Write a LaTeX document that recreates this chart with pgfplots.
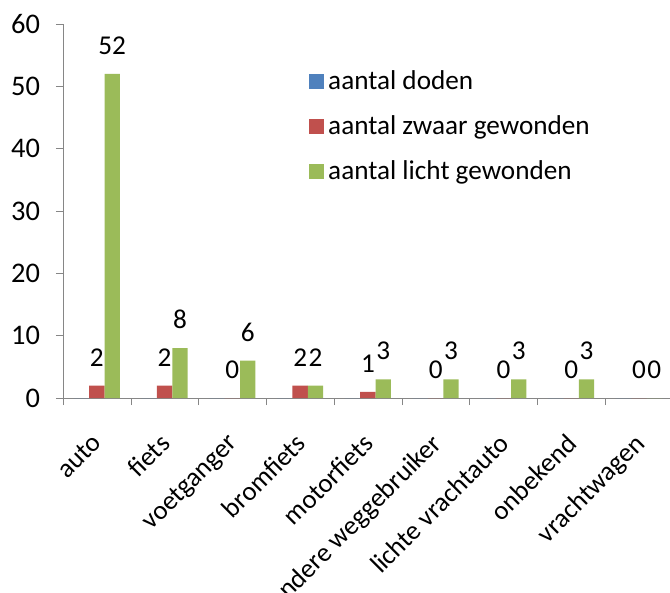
\documentclass[border=0pt]{standalone}
\usepackage{fontspec}
\setmainfont{Carlito}
\usepackage{pgfplots}
\pgfplotsset{compat=1.18}
\definecolor{dodenblue}{HTML}{4F81BD}
\definecolor{zwaarred}{HTML}{C0504D}
\definecolor{lichtgreen}{HTML}{9BBB59}
\definecolor{axisgray}{HTML}{868686}
\pgfplotsset{
  sq legend/.style={legend image code/.code={\fill[##1] (0bp,-3.75bp) rectangle (7.5bp,3.75bp);}},
}
\begin{document}
\begin{tikzpicture}[font=\fontsize{13.6bp}{16bp}\selectfont]
\path[use as bounding box] (-31.5bp,-97.5bp) rectangle (303.5bp,199bp);
\begin{axis}[
  at={(0,0)}, anchor=south west,
  scale only axis, width=303.5bp, height=187bp,
  xmin=-0.5, xmax=8.459, ymin=0, ymax=60,
  ybar=0pt, bar width=0.226,
  axis lines=left, axis line style={axisgray, -},
  tick align=outside,
  major tick length=3.5bp, minor tick length=3.5bp,
  tick label style={font=\fontsize{14.2bp}{17bp}\selectfont},
  ytick={0,10,...,60},
  y tick style={axisgray},
  yticklabel style={xshift=-4.5bp},
  xtick={0,...,8},
  xticklabels={auto,fiets,voetganger,bromfiets,motorfiets,andere weggebruiker,lichte vrachtauto,onbekend,vrachtwagen},
  major x tick style={draw=none},
  minor xtick={-0.5,0.5,...,7.5},
  minor x tick style={axisgray},
  xticklabel style={xshift=-3bp, yshift=-12bp, rotate=45, anchor=north east, inner sep=1bp,
    font=\fontsize{13.4bp}{16bp}\selectfont},
  /pgf/number format/assume math mode=true,
  clip=false,
  nodes near coords style={inner sep=0pt, yshift=9.5bp},
  legend style={at={(rel axis cs:0.405,0.887)}, anchor=north west, draw=none, fill=none,
    inner sep=0pt, row sep=7.5bp, cells={anchor=west}},
  legend cell align=left,
]
\addplot[fill=dodenblue, draw=none, sq legend] coordinates {
  (0,0) (1,0) (2,0) (3,0) (4,0) (5,0) (6,0) (7,0) (8,0)};
\addlegendentry{aantal doden}
\addplot[fill=zwaarred, draw=none, sq legend, nodes near coords] coordinates {
  (0,2) (1,2) (2,0) (3,2) (4,1) (5,0) (6,0) (7,0) (8,0)};
\addlegendentry{aantal zwaar gewonden}
\addplot[fill=lichtgreen, draw=none, sq legend, nodes near coords] coordinates {
  (0,52) (1,8) (2,6) (3,2) (4,3) (5,3) (6,3) (7,3) (8,0)};
\addlegendentry{aantal licht gewonden}
\end{axis}
\end{tikzpicture}
\end{document}
